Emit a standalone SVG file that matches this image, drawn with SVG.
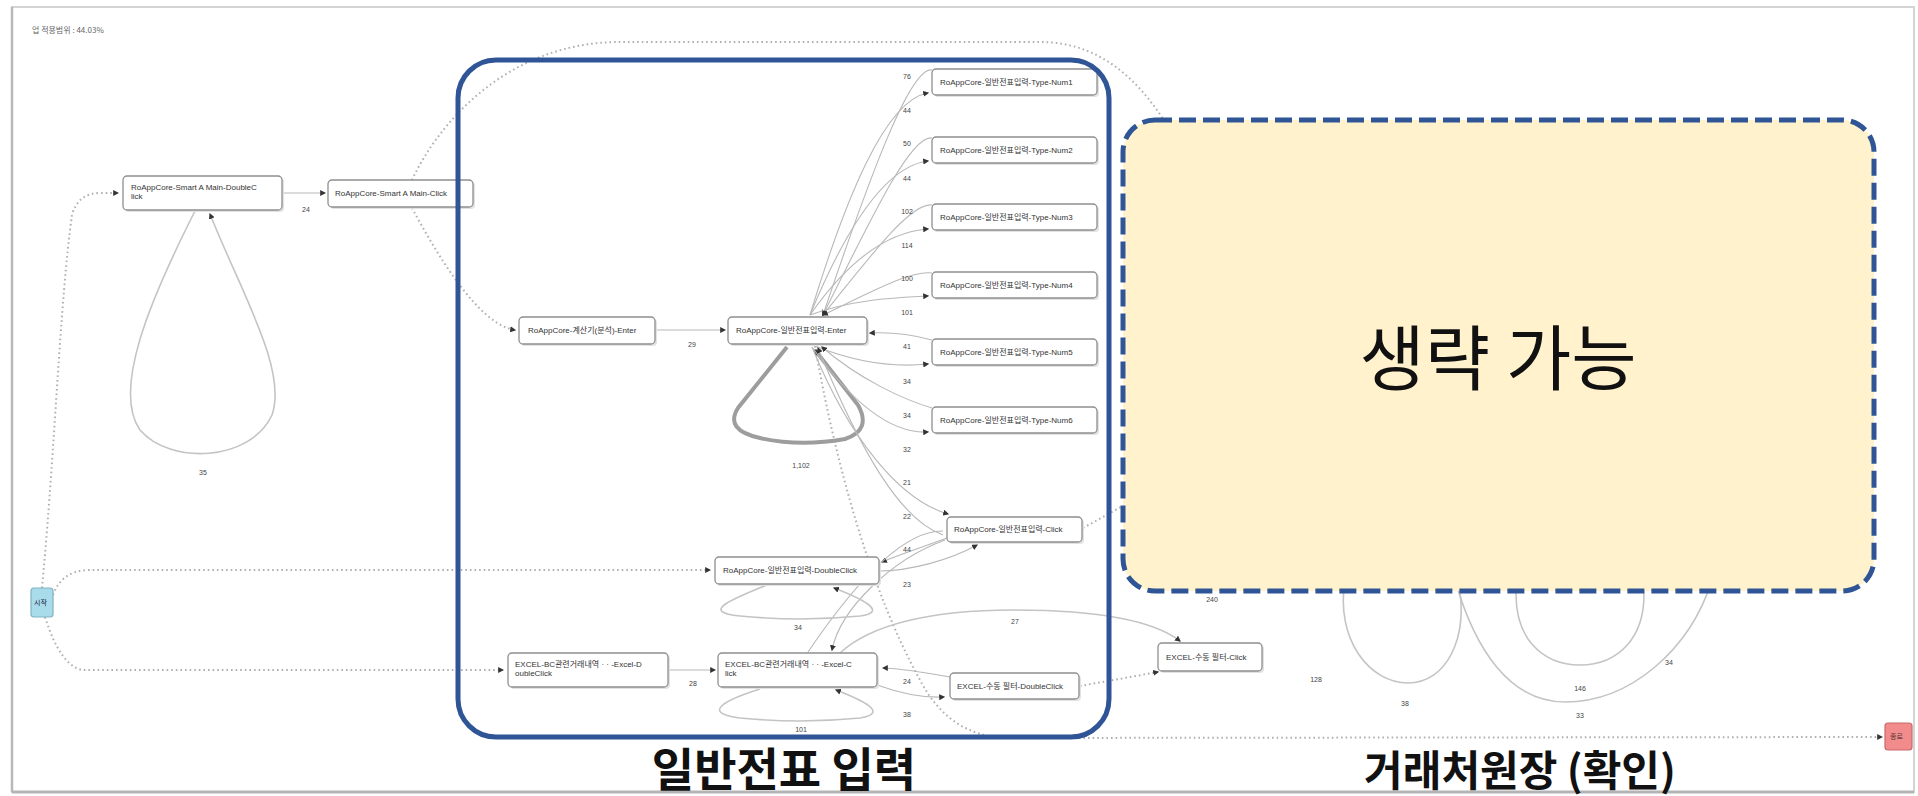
<svg xmlns="http://www.w3.org/2000/svg" width="1918" height="796" viewBox="0 0 1918 796">
<defs>
<marker id="ar" viewBox="0 0 10 10" refX="8" refY="5" markerWidth="6" markerHeight="6" markerUnits="userSpaceOnUse" orient="auto"><path d="M0,0 L10,5 L0,10 z" fill="#333"/></marker>
<style>
.node rect.b{fill:#fff;stroke:#8f8f8f;stroke-width:1.3}
.node rect.s{fill:#e2e2e2;stroke:none}
.nt{font-family:"Liberation Sans","Noto Sans CJK KR",sans-serif;font-size:8px;fill:#333}
.e{fill:none;stroke:#b8b8b8;stroke-width:1.1}
.d{fill:none;stroke:#b0b0b0;stroke-width:2;stroke-dasharray:1.6 3}
.lp{fill:none;stroke:#c4c4c4;stroke-width:1.6}
.lb{font-family:"Liberation Sans",sans-serif;font-size:7px;fill:#444;text-anchor:middle}
.big{font-family:"Noto Sans CJK KR",sans-serif;font-weight:700;fill:#111;text-anchor:middle}
</style>
</defs>
<rect width="1918" height="796" fill="#fff"/>
<!-- outer frame -->
<rect x="12" y="7" width="1902" height="785" fill="none" stroke="#d4d4d4" stroke-width="2"/>
<line x1="12" y1="7" x2="12" y2="792" stroke="#b8b8b8" stroke-width="2.5"/>
<line x1="12" y1="792" x2="1914" y2="792" stroke="#b4b4b4" stroke-width="3"/>
<text x="32" y="33" font-family="'Noto Sans CJK KR',sans-serif" font-size="8" fill="#666">업 적용범위 : 44.03%</text>

<g id="connectors">
<!-- loops of the omitted area (right side) -->
<path class="lp" d="M1345 580 C1335 640 1370 683 1408 683 C1445 683 1470 640 1458 580"/>
<path class="lp" d="M1517 580 C1510 640 1545 665 1580 665 C1615 665 1650 640 1643 580"/>
<path class="lp" d="M1455 580 C1475 650 1510 702 1565 702 C1630 702 1690 650 1712 580"/>
<!-- dotted -->
<path class="d" d="M42 588 C55 450 60 300 72 215 Q78 193 100 193 L118 193" marker-end="url(#ar)"/>
<path class="d" d="M53 595 Q62 570 90 570 L710 570" marker-end="url(#ar)"/>
<path class="d" d="M45 617 Q60 665 82 670 L503 670" marker-end="url(#ar)"/>
<path class="d" d="M412 180 C440 120 510 42 620 42 L1040 42 C1100 42 1140 80 1170 130"/>
<path class="d" d="M412 208 C440 260 480 325 515 330" marker-end="url(#ar)"/>
<path class="d" d="M815 346 C835 460 870 590 920 680 Q950 738 1010 738 L1882 737" marker-end="url(#ar)"/>
<path class="d" d="M1083 528 L1128 503"/>
<path class="d" d="M1080 686 L1158 672" marker-end="url(#ar)"/>
<!-- solid -->
<path class="e" d="M282 193 L325 193" marker-end="url(#ar)"/>
<path class="lp" d="M195 211 C150 300 112 390 140 430 C170 465 250 462 272 415 C288 370 240 290 210 214" marker-end="url(#ar)"/>
<path class="e" d="M655 330 L725 330" marker-end="url(#ar)"/>
<path d="M787 347 L738 408 Q724 430 760 438 Q800 447 845 439 Q872 430 858 405 L815 350" fill="none" stroke="#9d9d9d" stroke-width="4" marker-end="url(#ar)"/>
<!-- Type-Num edges -->
<path class="e" d="M932 70 C912 66 875 160 823 315" marker-end="url(#ar)"/>
<path class="e" d="M810 315 C845 200 885 100 928 93" marker-end="url(#ar)"/>
<path class="e" d="M932 138 C912 134 875 210 823 315" marker-end="url(#ar)"/>
<path class="e" d="M810 315 C845 230 885 166 928 161" marker-end="url(#ar)"/>
<path class="e" d="M932 205 C912 202 875 250 823 315" marker-end="url(#ar)"/>
<path class="e" d="M810 315 C845 265 885 232 928 229" marker-end="url(#ar)"/>
<path class="e" d="M932 273 C912 270 875 290 823 315" marker-end="url(#ar)"/>
<path class="e" d="M810 315 C850 300 890 298 928 296" marker-end="url(#ar)"/>
<path class="e" d="M932 340 C910 334 890 332 870 333" marker-end="url(#ar)"/>
<path class="e" d="M815 346 C850 360 890 368 928 364" marker-end="url(#ar)"/>
<path class="e" d="M932 408 C905 400 860 380 822 347" marker-end="url(#ar)"/>
<path class="e" d="M812 347 C850 400 890 434 928 432" marker-end="url(#ar)"/>
<!-- Click node edges -->
<path class="e" d="M812 347 C850 440 900 500 948 514" marker-end="url(#ar)"/>
<path class="e" d="M943 535 C900 520 860 450 818 348" marker-end="url(#ar)"/>
<path class="e" d="M879 571 C910 571 950 560 977 545" marker-end="url(#ar)"/>
<path class="e" d="M947 538 C920 548 895 556 882 562" marker-end="url(#ar)"/>
<path class="e" d="M945 540 C890 560 840 610 832 650" marker-end="url(#ar)"/>
<path class="e" d="M808 652 C850 590 900 530 943 531"/>
<!-- DoubleClick / Excel -->
<path class="lp" d="M767 585 C730 600 700 612 740 616 Q800 622 860 616 C890 612 860 598 834 588" marker-end="url(#ar)"/>
<path class="e" d="M668 670 L715 670" marker-end="url(#ar)"/>
<path class="lp" d="M760 689 C725 700 700 713 740 718 Q800 724 860 718 C890 713 862 700 836 690" marker-end="url(#ar)"/>
<path class="e" d="M877 685 C905 695 925 698 944 697" marker-end="url(#ar)"/>
<path class="e" d="M950 677 C920 672 900 668 883 668" marker-end="url(#ar)"/>
<path class="lp" d="M840 653 C870 625 930 610 1013 610 C1090 610 1150 618 1180 641" marker-end="url(#ar)"/>
</g>

<g id="edge-labels">
<text class="lb" x="306" y="212">24</text>
<text class="lb" x="203" y="475">35</text>
<text class="lb" x="692" y="347">29</text>
<text class="lb" x="801" y="468">1,102</text>
<text class="lb" x="907" y="79">76</text>
<text class="lb" x="907" y="113">44</text>
<text class="lb" x="907" y="146">50</text>
<text class="lb" x="907" y="181">44</text>
<text class="lb" x="907" y="214">102</text>
<text class="lb" x="907" y="248">114</text>
<text class="lb" x="907" y="281">100</text>
<text class="lb" x="907" y="315">101</text>
<text class="lb" x="907" y="349">41</text>
<text class="lb" x="907" y="384">34</text>
<text class="lb" x="907" y="418">34</text>
<text class="lb" x="907" y="452">32</text>
<text class="lb" x="907" y="485">21</text>
<text class="lb" x="907" y="519">22</text>
<text class="lb" x="907" y="552">44</text>
<text class="lb" x="907" y="587">23</text>
<text class="lb" x="798" y="630">34</text>
<text class="lb" x="693" y="686">28</text>
<text class="lb" x="801" y="732">101</text>
<text class="lb" x="907" y="684">24</text>
<text class="lb" x="907" y="717">38</text>
<text class="lb" x="1015" y="624">27</text>
<text class="lb" x="1212" y="602">240</text>
<text class="lb" x="1316" y="682">128</text>
<text class="lb" x="1405" y="706">38</text>
<text class="lb" x="1580" y="691">146</text>
<text class="lb" x="1580" y="718">33</text>
<text class="lb" x="1669" y="665">34</text>
</g>

<g id="n-start" class="node"><rect x="31" y="588" width="22" height="29" rx="3" fill="#a9dcea" stroke="#7fb3c4" stroke-width="1.2"/><text x="34" y="605" font-family="'Noto Sans CJK KR',sans-serif" font-size="7" fill="#224">시작</text></g>
<g id="n-end" class="node"><rect x="1885" y="723" width="27" height="27" rx="3" fill="#f28b8b" stroke="#c96a6a" stroke-width="1.2"/><text x="1890" y="739" font-family="'Noto Sans CJK KR',sans-serif" font-size="7" fill="#533">종료</text></g>

<g id="n1" class="node"><rect class="s" x="125" y="178" width="159" height="34" rx="4"/><rect class="b" x="123" y="176" width="159" height="34" rx="4"/><text class="nt" x="131" y="190">RoAppCore-Smart A Main-DoubleC</text><text class="nt" x="131" y="199">lick</text></g>
<g id="n2" class="node"><rect class="s" x="330" y="182" width="145" height="27" rx="4"/><rect class="b" x="328" y="180" width="145" height="27" rx="4"/><text class="nt" x="335" y="196">RoAppCore-Smart A Main-Click</text></g>
<g id="n3" class="node"><rect class="s" x="521" y="319" width="136" height="27" rx="4"/><rect class="b" x="519" y="317" width="136" height="27" rx="4"/><text class="nt" x="528" y="333">RoAppCore-계산기(분석)-Enter</text></g>
<g id="n4" class="node"><rect class="s" x="730" y="319" width="139" height="27" rx="4"/><rect class="b" x="728" y="317" width="139" height="27" rx="4"/><text class="nt" x="736" y="333">RoAppCore-일반전표입력-Enter</text></g>
<g id="n5" class="node"><rect class="s" x="934" y="71" width="165" height="26" rx="4"/><rect class="b" x="932" y="69" width="165" height="26" rx="4"/><text class="nt" x="940" y="85">RoAppCore-일반전표입력-Type-Num1</text></g>
<g id="n6" class="node"><rect class="s" x="934" y="139" width="165" height="26" rx="4"/><rect class="b" x="932" y="137" width="165" height="26" rx="4"/><text class="nt" x="940" y="153">RoAppCore-일반전표입력-Type-Num2</text></g>
<g id="n7" class="node"><rect class="s" x="934" y="206" width="165" height="26" rx="4"/><rect class="b" x="932" y="204" width="165" height="26" rx="4"/><text class="nt" x="940" y="220">RoAppCore-일반전표입력-Type-Num3</text></g>
<g id="n8" class="node"><rect class="s" x="934" y="274" width="165" height="26" rx="4"/><rect class="b" x="932" y="272" width="165" height="26" rx="4"/><text class="nt" x="940" y="288">RoAppCore-일반전표입력-Type-Num4</text></g>
<g id="n9" class="node"><rect class="s" x="934" y="341" width="165" height="26" rx="4"/><rect class="b" x="932" y="339" width="165" height="26" rx="4"/><text class="nt" x="940" y="355">RoAppCore-일반전표입력-Type-Num5</text></g>
<g id="n10" class="node"><rect class="s" x="934" y="409" width="165" height="26" rx="4"/><rect class="b" x="932" y="407" width="165" height="26" rx="4"/><text class="nt" x="940" y="423">RoAppCore-일반전표입력-Type-Num6</text></g>
<g id="n11" class="node"><rect class="s" x="949" y="519" width="135" height="25" rx="4"/><rect class="b" x="947" y="517" width="135" height="25" rx="4"/><text class="nt" x="954" y="532">RoAppCore-일반전표입력-Click</text></g>
<g id="n12" class="node"><rect class="s" x="717" y="559" width="164" height="27" rx="4"/><rect class="b" x="715" y="557" width="164" height="27" rx="4"/><text class="nt" x="723" y="573">RoAppCore-일반전표입력-DoubleClick</text></g>
<g id="n13" class="node"><rect class="s" x="510" y="655" width="160" height="34" rx="4"/><rect class="b" x="508" y="653" width="160" height="34" rx="4"/><text class="nt" x="515" y="667">EXCEL-BC관련거래내역 · · -Excel-D</text><text class="nt" x="515" y="676">oubleClick</text></g>
<g id="n14" class="node"><rect class="s" x="720" y="655" width="159" height="34" rx="4"/><rect class="b" x="718" y="653" width="159" height="34" rx="4"/><text class="nt" x="725" y="667">EXCEL-BC관련거래내역 · · -Excel-C</text><text class="nt" x="725" y="676">lick</text></g>
<g id="n15" class="node"><rect class="s" x="952" y="675" width="129" height="26" rx="4"/><rect class="b" x="950" y="673" width="129" height="26" rx="4"/><text class="nt" x="957" y="689">EXCEL-수동 필터-DoubleClick</text></g>
<g id="n16" class="node"><rect class="s" x="1160" y="645" width="104" height="28" rx="4"/><rect class="b" x="1158" y="643" width="104" height="28" rx="4"/><text class="nt" x="1166" y="660">EXCEL-수동 필터-Click</text></g>

<g id="group-journal">
<rect x="458" y="60" width="651" height="677" rx="38" fill="none" stroke="#2f5597" stroke-width="5"/>
<text class="big" x="784" y="786" font-size="46">일반전표 입력</text>
</g>
<g id="group-omit">
<rect x="1123" y="120" width="751" height="471" rx="32" fill="#fff2cc" stroke="#2f5597" stroke-width="5" stroke-dasharray="17 7"/>
<text x="1498" y="384" font-family="'Noto Sans CJK KR',sans-serif" font-size="71" fill="#111" text-anchor="middle">생략 가능</text>
</g>
<g id="label-ledger"><text class="big" x="1520" y="786" font-size="42">거래처원장 (확인)</text></g>
</svg>
